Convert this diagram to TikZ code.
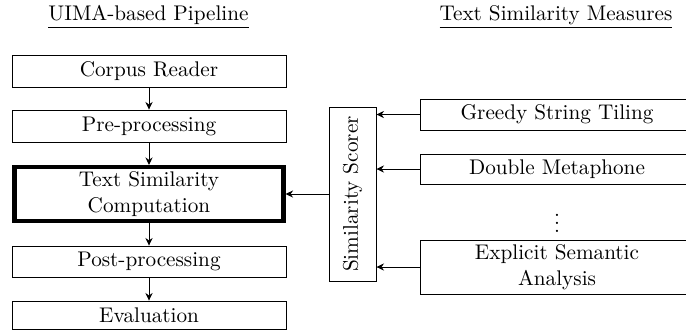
\documentclass[tikz,border=0pt]{standalone}
\usetikzlibrary{arrows.meta}
\begin{document}
\begin{tikzpicture}[x=0.4717pt,y=-0.4717pt,
  box/.style={draw,inner sep=0pt,align=center,minimum width={274*0.4717pt}},
  thickbox/.style={box,line width=1.9pt,minimum width={269*0.4717pt}},
  title/.style={anchor=base},
  conn/.style={-{Stealth[length=3.6pt,width=3.4pt,inset=1.2pt]},line width=0.45pt}]
\useasboundingbox (0,0) rectangle (686,331);
\node[title] (t1) at (148.5,20.5) {\underline{UIMA-based Pipeline}};
\node[title] (t2) at (556,20.5) {\underline{Text Similarity Measures}};
\node[box,minimum height={32*0.4717pt}] (cr) at (149,71) {Corpus Reader};
\node[box,minimum height={32*0.4717pt}] (pp) at (149,126) {Pre-processing};
\node[thickbox,minimum height={54*0.4717pt}] (tsc) at (149,194) {Text Similarity\\Computation};
\node[box,minimum height={31*0.4717pt}] (post) at (149,261.5) {Post-processing};
\node[box,minimum height={28*0.4717pt}] (ev) at (149,315) {Evaluation};
\node[draw,inner sep=0pt,minimum width={174*0.4717pt},minimum height={47*0.4717pt},rotate=90] (sc) at (352.5,194) {Similarity Scorer};
\node[box,minimum height={31*0.4717pt}] (gst) at (557,114.5) {Greedy String Tiling};
\node[box,minimum height={30*0.4717pt}] (dm) at (557,169) {Double Metaphone};
\node (dots) at (557,217) {$\vdots$};
\node[box,minimum height={54*0.4717pt}] (esa) at (557,267) {Explicit Semantic\\Analysis};
\draw[conn] (cr) -- (pp);
\draw[conn] (pp) -- (tsc);
\draw[conn] (tsc) -- (post);
\draw[conn] (post) -- (ev);
\draw[conn] (sc.north) -- (tsc.east |- sc.north);
\draw[conn] (gst.west) -- (gst.west -| sc.south);
\draw[conn] (dm.west) -- (dm.west -| sc.south);
\draw[conn] (esa.west) -- (esa.west -| sc.south);
\end{tikzpicture}
\end{document}
